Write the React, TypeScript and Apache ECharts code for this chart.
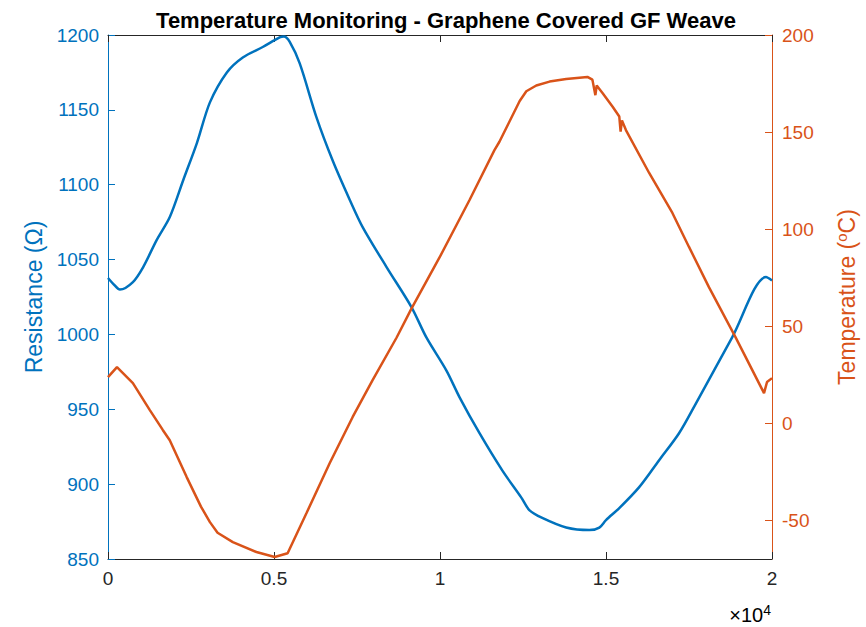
import React, { useEffect, useRef } from "react";
import * as echarts from "echarts";

const titleText = "Temperature Monitoring - Graphene Covered GF Weave";

const resistanceTime = [
  0, 150, 360, 750, 1060, 1465, 1865, 2265, 2680, 3070, 3580, 4060, 4660, 5170,
  5300, 5470, 5775, 6280, 6770, 7280, 7670, 8390, 9140, 9590, 10190, 10590,
  11190, 11880, 12450, 12690, 13080, 13800, 14500, 14800, 15000, 15400, 16000,
  16600, 17200, 17710, 18800, 19820, 20000,
];
const resistance = [
  1037.7, 1034, 1030, 1035, 1045, 1063, 1078.6, 1103, 1128, 1155, 1175, 1185,
  1192, 1198.4, 1199, 1195.5, 1181, 1145, 1116, 1090, 1071.7, 1045, 1018.3, 998,
  976, 958, 934, 909, 891, 882.7, 877.4, 871, 869.3, 871, 876, 884, 898, 916,
  934, 954, 998, 1038.3, 1036,
];

const temperatureTime = [
  0, 270, 750, 1260, 1650, 1860, 2370, 2800, 3070, 3300, 3760, 4470, 5020, 5410,
  5980, 6680, 7370, 7970, 8690, 9140, 9990, 10890, 11640, 11790, 12400, 12600,
  12900, 13300, 13800, 14440, 14590, 14680, 14720, 14900, 15200, 15400, 15440,
  15480, 15600, 16300, 17000, 17500, 18100, 18900, 19760, 19850, 20000,
];
const temperature = [
  23.7, 28.9, 20.6, 6.7, -3.5, -8.8, -27.8, -43, -51, -56.5, -61.3, -66.4, -69,
  -67, -46.3, -20.5, 3.2, 22.2, 44, 59, 85.5, 115, 140.7, 145, 166, 171, 174,
  176, 177.3, 178.4, 177, 169, 174, 170, 163, 158, 150.2, 156, 151, 128.9, 108.3,
  90.8, 70.1, 44.3, 15.5, 21.2, 23.2,
];

const blue = "#0072BD";
const orange = "#D95319";
const dark = "#262626";
const font = "'Liberation Sans', Arial, Helvetica, sans-serif";

export default function App() {
  const ref = useRef<HTMLDivElement>(null);
  useEffect(() => {
    if (!ref.current) return;
    const chart = echarts.init(ref.current, undefined, { renderer: "svg" });
    const resData = resistanceTime.map((t, i) => [t, resistance[i]]);
    const tempData = temperatureTime.map((t, i) => [t, temperature[i]]);
    chart.setOption({
      animation: false,
      backgroundColor: "#fff",
      textStyle: { fontFamily: font },
      title: {
        text: titleText,
        left: 441,
        textAlign: "center",
        top: 4,
        textStyle: { fontSize: 22, fontWeight: "bold", color: "#000", fontFamily: font },
      },
      grid: { left: 108, right: 93, top: 35, bottom: 68, containLabel: false },
      xAxis: [
        {
          type: "value",
          min: 0,
          max: 20000,
          interval: 5000,
          position: "bottom",
          axisLine: { onZero: false, lineStyle: { color: dark, width: 1 } },
          axisTick: { inside: true, length: 7, lineStyle: { color: dark } },
          axisLabel: {
            color: dark,
            fontSize: 19,
            margin: 10,
            fontFamily: font,
            formatter: (v: number) => String(v / 10000),
          },
          splitLine: { show: false },
        },
        {
          type: "value",
          min: 0,
          max: 20000,
          interval: 5000,
          position: "top",
          axisLine: { onZero: false, lineStyle: { color: dark, width: 1 } },
          axisTick: { inside: true, length: 7, lineStyle: { color: dark } },
          axisLabel: { show: false },
          splitLine: { show: false },
        },
      ],
      yAxis: [
        {
          type: "value",
          min: 850,
          max: 1200,
          interval: 50,
          position: "left",
          name: "Resistance (Ω)",
          nameLocation: "middle",
          nameRotate: 90,
          nameGap: 60,
          nameTextStyle: { color: blue, fontSize: 23, fontFamily: font },
          axisLine: { show: true, onZero: false, lineStyle: { color: blue, width: 1 } },
          axisTick: { inside: true, length: 7, lineStyle: { color: blue } },
          axisLabel: {
            color: blue,
            fontSize: 19,
            margin: 9,
            fontFamily: font,
            formatter: (v: number) => String(v),
          },
          splitLine: { show: false },
        },
        {
          type: "value",
          min: -70,
          max: 200,
          splitNumber: 5,
          position: "right",
          name: "{a|Temperature (}{s|o}{a|C)}",
          nameLocation: "middle",
          nameRotate: 90,
          nameGap: 62,
          nameTextStyle: {
            color: orange,
            fontSize: 23,
            fontFamily: font,
            rich: {
              a: { color: orange, fontSize: 23, fontFamily: font },
              s: { color: orange, fontSize: 15, fontFamily: font, verticalAlign: "top", padding: [0, 0, 10, 0] },
            },
          },
          axisLine: { show: true, onZero: false, lineStyle: { color: orange, width: 1 } },
          axisTick: { inside: true, length: 7, lineStyle: { color: orange } },
          axisLabel: {
            color: orange,
            fontSize: 19,
            margin: 10,
            fontFamily: font,
            showMinLabel: false,
            formatter: (v: number) => String(v),
          },
          splitLine: { show: false },
        },
      ],
      series: [
        {
          type: "line",
          xAxisIndex: 0,
          yAxisIndex: 0,
          data: resData,
          showSymbol: false,
          symbol: "none",
          smooth: 0.3,
          lineStyle: { color: blue, width: 2.5 },
          itemStyle: { color: blue },
        },
        {
          type: "line",
          xAxisIndex: 0,
          yAxisIndex: 1,
          data: tempData,
          showSymbol: false,
          symbol: "none",
          lineStyle: { color: orange, width: 2.5 },
          itemStyle: { color: orange },
        },
      ],
      graphic: [
        {
          type: "text",
          right: 866 - 771,
          top: 603,
          style: {
            text: "{x|×}{n|10}{s|4}",
            rich: {
              x: { fontSize: 20, color: dark, fontFamily: font },
              n: { fontSize: 20, color: dark, fontFamily: font },
              s: { fontSize: 14, color: dark, fontFamily: font, verticalAlign: "top", padding: [0, 0, 9, 0] },
            },
          },
        },
      ],
    });
    return () => chart.dispose();
  }, []);
  return (
    <div
      ref={ref}
      style={{ position: "fixed", left: 0, top: 0, width: 866, height: 627 }}
    />
  );
}
